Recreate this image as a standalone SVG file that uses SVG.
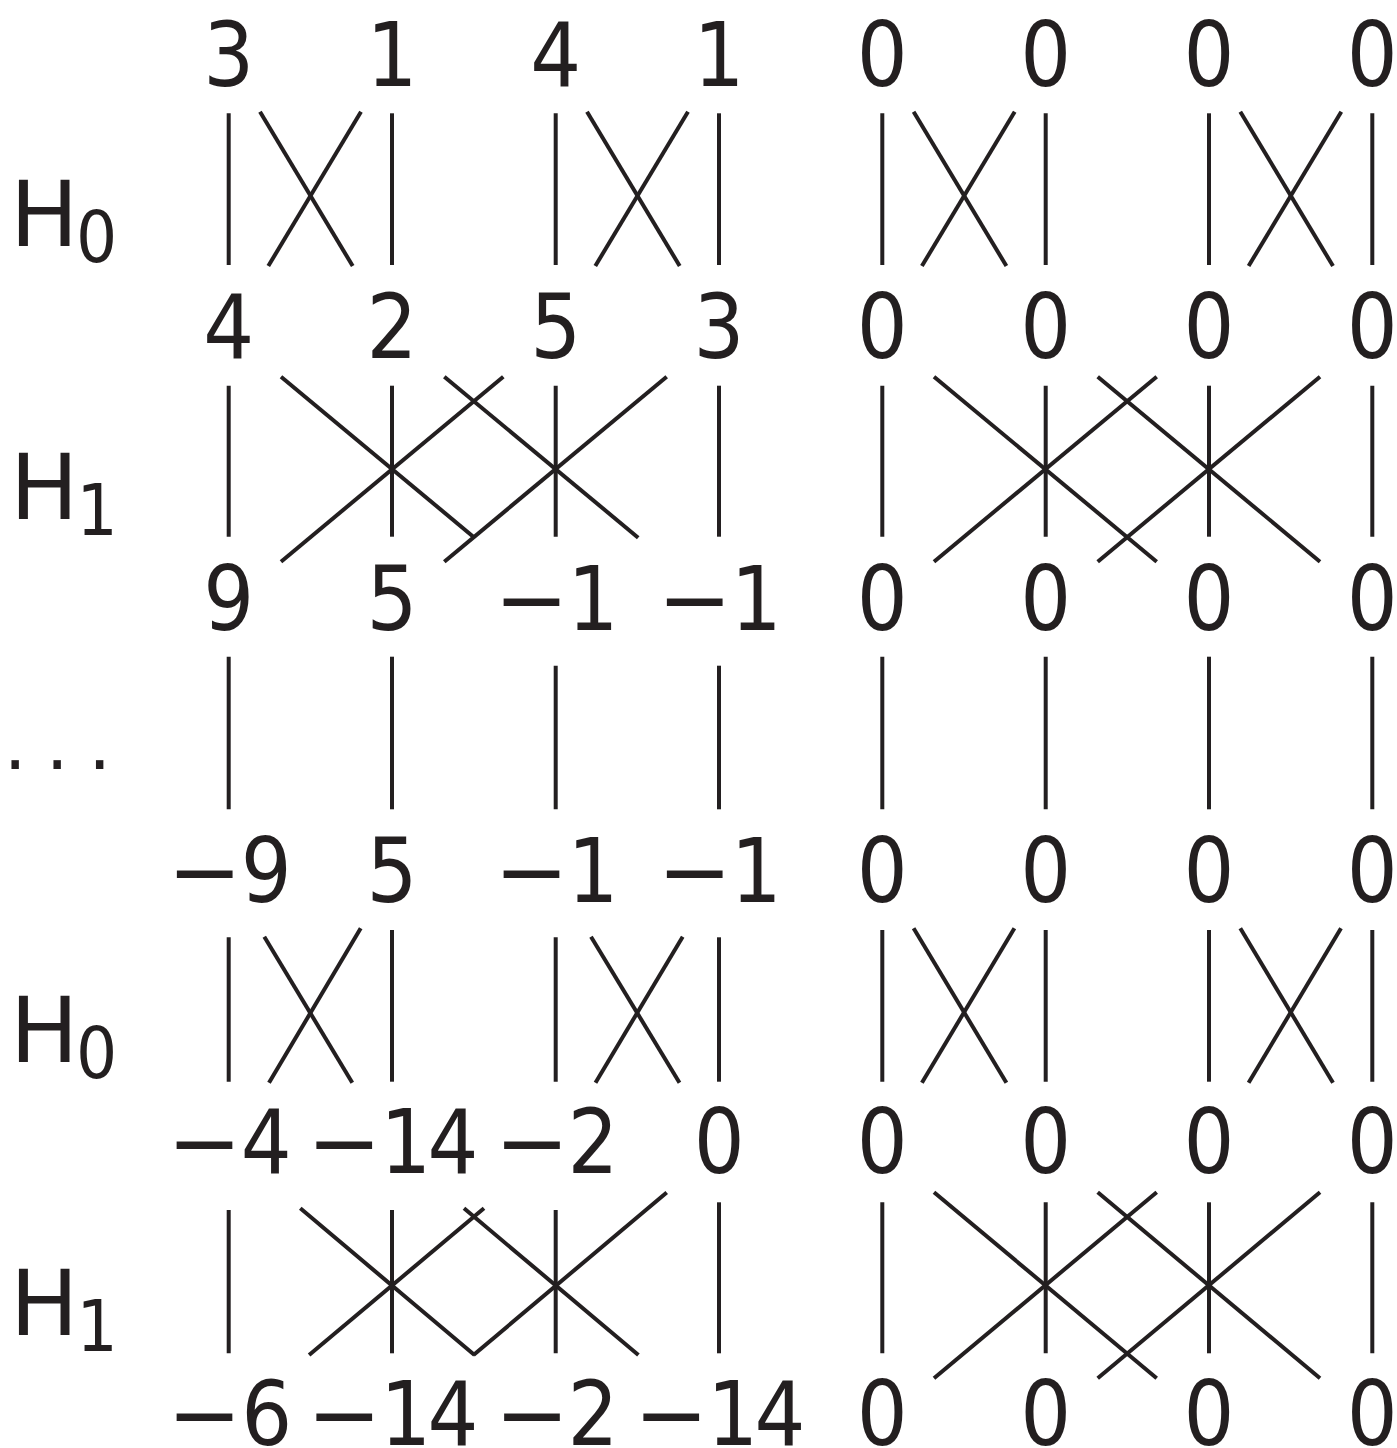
<svg xmlns="http://www.w3.org/2000/svg" width="1397" height="1448" viewBox="0 0 1397 1448">
<style>
.t{font-family:'DejaVu Sans Condensed','DejaVu Sans',sans-serif;font-size:89px;fill:#231f20;text-anchor:middle}
.m{font-family:'DejaVu Sans',sans-serif}
.h{font-family:'DejaVu Sans',sans-serif;font-size:91px;fill:#231f20;text-anchor:middle}
.sub{font-family:'DejaVu Sans Condensed','DejaVu Sans',sans-serif;font-size:72px}
.dots{font-family:'DejaVu Sans',sans-serif;font-size:72px;fill:#231f20;text-anchor:middle}
.ln line{stroke:#231f20;stroke-width:4;stroke-linecap:butt;fill:none}
</style>
<rect width="1397" height="1448" fill="#ffffff"/>

<g id="row-labels">
<g id="label-H0-a"><text class="h" x="44.3" y="246">H<tspan class="sub" x="96.5" y="262">0</tspan></text></g>
<g id="label-H1-a"><text class="h" x="44.3" y="519">H<tspan class="sub" x="97.2" y="535">1</tspan></text></g>
<g id="label-dots"><text class="dots" x="15.3 57.2 99.7" y="768.8">...</text></g>
<g id="label-H0-b"><text class="h" x="44.3" y="1061.5">H<tspan class="sub" x="96.5" y="1077.5">0</tspan></text></g>
<g id="label-H1-b"><text class="h" x="44.3" y="1334.5">H<tspan class="sub" x="97.2" y="1350.5">1</tspan></text></g>
</g>

<g id="connectors" class="ln">
<!-- block 1: H0 upper -->
<line x1="228.7" y1="113.3" x2="228.7" y2="265"/>
<line x1="392" y1="113.3" x2="392" y2="265"/>
<line x1="555.7" y1="113.3" x2="555.7" y2="265"/>
<line x1="719" y1="113.3" x2="719" y2="265"/>
<line x1="882.3" y1="113.3" x2="882.3" y2="265"/>
<line x1="1045.7" y1="113.3" x2="1045.7" y2="265"/>
<line x1="1209" y1="113.3" x2="1209" y2="265"/>
<line x1="1372.3" y1="113.3" x2="1372.3" y2="265"/>
<line x1="260" y1="111.7" x2="352.7" y2="266"/>
<line x1="361" y1="111.7" x2="268.3" y2="266"/>
<line x1="587" y1="111.7" x2="679.7" y2="266"/>
<line x1="688" y1="111.7" x2="595.3" y2="266"/>
<line x1="913.6" y1="111.7" x2="1006.4" y2="266"/>
<line x1="1014.7" y1="111.7" x2="921.9" y2="266"/>
<line x1="1240.3" y1="111.7" x2="1333" y2="266"/>
<line x1="1341.3" y1="111.7" x2="1248.6" y2="266"/>
<!-- block 2: H1 upper -->
<line x1="228.7" y1="385.7" x2="228.7" y2="536.7"/>
<line x1="392" y1="385.7" x2="392" y2="536.7"/>
<line x1="555.7" y1="385.7" x2="555.7" y2="536.7"/>
<line x1="719" y1="385.7" x2="719" y2="536.7"/>
<line x1="882.3" y1="385.7" x2="882.3" y2="536.7"/>
<line x1="1045.7" y1="385.7" x2="1045.7" y2="536.7"/>
<line x1="1209" y1="385.7" x2="1209" y2="536.7"/>
<line x1="1372.3" y1="385.7" x2="1372.3" y2="536.7"/>
<line x1="281" y1="376.7" x2="474.5" y2="537.7"/>
<line x1="281" y1="561.7" x2="503.3" y2="376.7"/>
<line x1="444.3" y1="376.7" x2="638.2" y2="537.7"/>
<line x1="444.3" y1="561.7" x2="666.7" y2="376.7"/>
<line x1="934" y1="376.7" x2="1156.7" y2="561.7"/>
<line x1="934" y1="561.7" x2="1156.7" y2="376.7"/>
<line x1="1097.7" y1="376.7" x2="1320" y2="561.7"/>
<line x1="1097.7" y1="561.7" x2="1320" y2="376.7"/>
<!-- block 3: dots -->
<line x1="228.7" y1="656.7" x2="228.7" y2="809.3"/>
<line x1="392" y1="656.7" x2="392" y2="809.3"/>
<line x1="555.7" y1="665.7" x2="555.7" y2="809.3"/>
<line x1="719" y1="665.7" x2="719" y2="809.3"/>
<line x1="882.3" y1="656.7" x2="882.3" y2="809.3"/>
<line x1="1045.7" y1="656.7" x2="1045.7" y2="809.3"/>
<line x1="1209" y1="656.7" x2="1209" y2="809.3"/>
<line x1="1372.3" y1="656.7" x2="1372.3" y2="809.3"/>
<!-- block 4: H0 lower -->
<line x1="228.7" y1="937.3" x2="228.7" y2="1081.7"/>
<line x1="392" y1="930" x2="392" y2="1081.7"/>
<line x1="555.7" y1="937.3" x2="555.7" y2="1081.7"/>
<line x1="719" y1="937.3" x2="719" y2="1081.7"/>
<line x1="882.3" y1="930" x2="882.3" y2="1081.7"/>
<line x1="1045.7" y1="930" x2="1045.7" y2="1081.7"/>
<line x1="1209" y1="930" x2="1209" y2="1081.7"/>
<line x1="1372.3" y1="930" x2="1372.3" y2="1081.7"/>
<line x1="264.3" y1="936.7" x2="352.3" y2="1082.7"/>
<line x1="360.7" y1="928.3" x2="269" y2="1082.7"/>
<line x1="591" y1="936.7" x2="679.5" y2="1082.7"/>
<line x1="682.7" y1="936.7" x2="595.5" y2="1082.7"/>
<line x1="913.6" y1="928.3" x2="1006.4" y2="1082.7"/>
<line x1="1014.4" y1="928.3" x2="921.9" y2="1082.7"/>
<line x1="1240.3" y1="928.3" x2="1333" y2="1082.7"/>
<line x1="1341" y1="928.3" x2="1248.6" y2="1082.7"/>
<!-- block 5: H1 lower -->
<line x1="228.7" y1="1210" x2="228.7" y2="1353.3"/>
<line x1="392" y1="1210" x2="392" y2="1353.3"/>
<line x1="555.7" y1="1210" x2="555.7" y2="1353.3"/>
<line x1="719" y1="1202.3" x2="719" y2="1353.3"/>
<line x1="882.3" y1="1202.3" x2="882.3" y2="1353.3"/>
<line x1="1045.7" y1="1202.3" x2="1045.7" y2="1353.3"/>
<line x1="1209" y1="1202.3" x2="1209" y2="1353.3"/>
<line x1="1372.3" y1="1202.3" x2="1372.3" y2="1353.3"/>
<line x1="300.3" y1="1208.3" x2="474.5" y2="1355"/>
<line x1="309.1" y1="1355" x2="484" y2="1208.3"/>
<line x1="464" y1="1208.3" x2="638.4" y2="1355"/>
<line x1="473.5" y1="1355" x2="666.7" y2="1192.5"/>
<line x1="934" y1="1192.3" x2="1156.7" y2="1378.3"/>
<line x1="934" y1="1378.3" x2="1156.7" y2="1192.3"/>
<line x1="1097.7" y1="1192.3" x2="1320" y2="1378.3"/>
<line x1="1097.7" y1="1378.3" x2="1320" y2="1192.3"/>
</g>

<g id="nodes">
<!-- row 0 -->
<g id="n-r0-c1"><text class="t" x="228.7" y="86">3</text></g>
<g id="n-r0-c2"><text class="t" x="392" y="86">1</text></g>
<g id="n-r0-c3"><text class="t" x="555.7" y="86">4</text></g>
<g id="n-r0-c4"><text class="t" x="719" y="86">1</text></g>
<g id="n-r0-c5"><text class="t" x="882.3" y="86">0</text></g>
<g id="n-r0-c6"><text class="t" x="1045.7" y="86">0</text></g>
<g id="n-r0-c7"><text class="t" x="1209" y="86">0</text></g>
<g id="n-r0-c8"><text class="t" x="1372.3" y="86">0</text></g>
<!-- row 1 -->
<g id="n-r1-c1"><text class="t" x="228.7" y="357.5">4</text></g>
<g id="n-r1-c2"><text class="t" x="392" y="357.5">2</text></g>
<g id="n-r1-c3"><text class="t" x="555.7" y="357.5">5</text></g>
<g id="n-r1-c4"><text class="t" x="719" y="357.5">3</text></g>
<g id="n-r1-c5"><text class="t" x="882.3" y="357.5">0</text></g>
<g id="n-r1-c6"><text class="t" x="1045.7" y="357.5">0</text></g>
<g id="n-r1-c7"><text class="t" x="1209" y="357.5">0</text></g>
<g id="n-r1-c8"><text class="t" x="1372.3" y="357.5">0</text></g>
<!-- row 2 -->
<g id="n-r2-c1"><text class="t" x="228.7" y="629.5">9</text></g>
<g id="n-r2-c2"><text class="t" x="392" y="629.5">5</text></g>
<g id="n-r2-c3"><text class="t" y="629.5"><tspan class="m" x="531.5">−</tspan><tspan x="593">1</tspan></text></g>
<g id="n-r2-c4"><text class="t" y="629.5"><tspan class="m" x="694.8">−</tspan><tspan x="756.3">1</tspan></text></g>
<g id="n-r2-c5"><text class="t" x="882.3" y="629.5">0</text></g>
<g id="n-r2-c6"><text class="t" x="1045.7" y="629.5">0</text></g>
<g id="n-r2-c7"><text class="t" x="1209" y="629.5">0</text></g>
<g id="n-r2-c8"><text class="t" x="1372.3" y="629.5">0</text></g>
<!-- row 3 -->
<g id="n-r3-c1"><text class="t" y="901.5"><tspan class="m" x="204.8">−</tspan><tspan x="266.2">9</tspan></text></g>
<g id="n-r3-c2"><text class="t" x="392" y="901.5">5</text></g>
<g id="n-r3-c3"><text class="t" y="901.5"><tspan class="m" x="531.5">−</tspan><tspan x="593">1</tspan></text></g>
<g id="n-r3-c4"><text class="t" y="901.5"><tspan class="m" x="694.8">−</tspan><tspan x="756.3">1</tspan></text></g>
<g id="n-r3-c5"><text class="t" x="882.3" y="901.5">0</text></g>
<g id="n-r3-c6"><text class="t" x="1045.7" y="901.5">0</text></g>
<g id="n-r3-c7"><text class="t" x="1209" y="901.5">0</text></g>
<g id="n-r3-c8"><text class="t" x="1372.3" y="901.5">0</text></g>
<!-- row 4 -->
<g id="n-r4-c1"><text class="t" y="1173.3"><tspan class="m" x="204.5">−</tspan><tspan x="266.1">4</tspan></text></g>
<g id="n-r4-c2"><text class="t" y="1173.3"><tspan class="m" x="344.2">−</tspan><tspan x="405.7 453">14</tspan></text></g>
<g id="n-r4-c3"><text class="t" y="1173.3"><tspan class="m" x="532">−</tspan><tspan x="593">2</tspan></text></g>
<g id="n-r4-c4"><text class="t" x="719.2" y="1173.3">0</text></g>
<g id="n-r4-c5"><text class="t" x="882.3" y="1173.3">0</text></g>
<g id="n-r4-c6"><text class="t" x="1045.7" y="1173.3">0</text></g>
<g id="n-r4-c7"><text class="t" x="1209" y="1173.3">0</text></g>
<g id="n-r4-c8"><text class="t" x="1372.3" y="1173.3">0</text></g>
<!-- row 5 -->
<g id="n-r5-c1"><text class="t" y="1445"><tspan class="m" x="204.5">−</tspan><tspan x="266.8">6</tspan></text></g>
<g id="n-r5-c2"><text class="t" y="1445"><tspan class="m" x="344.2">−</tspan><tspan x="405.7 453">14</tspan></text></g>
<g id="n-r5-c3"><text class="t" y="1445"><tspan class="m" x="532">−</tspan><tspan x="593">2</tspan></text></g>
<g id="n-r5-c4"><text class="t" y="1445"><tspan class="m" x="671.2">−</tspan><tspan x="732.7 780">14</tspan></text></g>
<g id="n-r5-c5"><text class="t" x="882.3" y="1445">0</text></g>
<g id="n-r5-c6"><text class="t" x="1045.7" y="1445">0</text></g>
<g id="n-r5-c7"><text class="t" x="1209" y="1445">0</text></g>
<g id="n-r5-c8"><text class="t" x="1372.3" y="1445">0</text></g>
</g>
</svg>
